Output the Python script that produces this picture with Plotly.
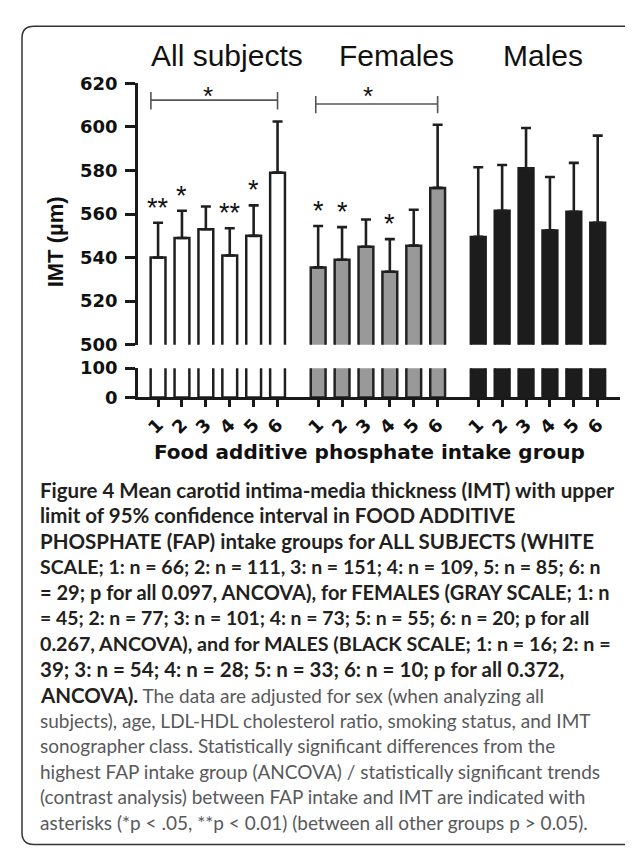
import plotly.graph_objects as go

W, H = 633, 848

GROUPS = ["All subjects", "Females", "Males"]
TICK_LABELS = ["1", "2", "3", "4", "5", "6"]

all_mean = [540, 549, 553, 541, 550, 579]
all_upper = [556, 561.5, 563.5, 553.5, 564, 602.5]
fem_mean = [535.5, 539, 545, 533.5, 545.5, 572]
fem_upper = [554.5, 554, 557.5, 548.5, 562, 601]
male_mean = [549.5, 561.5, 581, 552.5, 561, 556]
male_upper = [581.5, 582.5, 599.5, 577, 583.5, 596]

# significance stars above individual bars (group index, bar index, label)
bar_stars = [(0, 0, "**"), (0, 1, "*"), (0, 3, "**"), (0, 4, "*"),
             (1, 0, "*"), (1, 1, "*"), (1, 3, "*")]

means = [all_mean, fem_mean, male_mean]
uppers = [all_upper, fem_upper, male_upper]
fills = ["#ffffff", "#999999", "#1c1c1c"]
lines = ["#1f1f1f", "#222222", "#1c1c1c"]

GROUP_STEP = 6.7
BAR_W = 0.62

def px_x(p):
    return p / W

def px_y(p):
    return 1 - p / H

fig = go.Figure()
all_x = []
for g in range(3):
    xs = [i + g * GROUP_STEP for i in range(len(means[g]))]
    all_x += xs
    err = [u - m for u, m in zip(uppers[g], means[g])]
    for ax_x, ax_y, with_err in (("x2", "y2", True), ("x", "y", False)):
        fig.add_trace(go.Bar(
            x=xs, y=means[g], width=BAR_W, xaxis=ax_x, yaxis=ax_y,
            marker=dict(color=fills[g], line=dict(color=lines[g], width=2.5)),
            error_y=dict(type="data", symmetric=False, array=err,
                         arrayminus=[0] * len(err), color="#1f1f1f",
                         thickness=2.6, width=5) if with_err else None,
            hoverinfo="skip", showlegend=False,
        ))

x_dom = [px_x(130), px_x(611.7)]
x_rng = [-0.84, 19.32]
axis_col = "#1a1a1a"
TICK_FONT = dict(family="DejaVu Sans", size=18, weight="bold", color="#111111")

fig.update_layout(
    width=W, height=H,
    margin=dict(l=0, r=0, t=0, b=0),
    paper_bgcolor="white", plot_bgcolor="rgba(0,0,0,0)",
    barmode="overlay",
    font=dict(family="Liberation Sans, Arial, sans-serif", color="#111111"),
    xaxis=dict(domain=x_dom, range=x_rng, anchor="y", showline=True,
               linecolor=axis_col, linewidth=2.5, ticks="outside",
               ticklen=7, tickwidth=2.5, tickcolor=axis_col,
               tickvals=all_x, ticktext=TICK_LABELS * 3, tickangle=-45,
               tickfont=TICK_FONT,
               showgrid=False, zeroline=False, fixedrange=True),
    xaxis2=dict(domain=x_dom, range=x_rng, anchor="y2", visible=False,
                matches="x"),
    yaxis=dict(domain=[px_y(388), px_y(358)], range=[0, 100], anchor="x",
               showline=True, linecolor=axis_col, linewidth=2.5,
               ticks="outside", ticklen=10, tickwidth=2.5,
               tickcolor=axis_col, tickvals=[0, 100],
               tickfont=TICK_FONT, ticklabelstandoff=4,
               showgrid=False, zeroline=False),
    yaxis2=dict(domain=[px_y(334), px_y(66)], range=[500, 620], anchor="x2",
                showline=True, linecolor=axis_col, linewidth=2.5,
                ticks="outside", ticklen=10, tickwidth=2.5,
                tickcolor=axis_col, tickvals=list(range(500, 621, 20)),
                tickfont=TICK_FONT, ticklabelstandoff=4,
                showgrid=False, zeroline=False),
)

# group titles
for name, cx in zip(GROUPS, [219, 388, 535]):
    fig.add_annotation(text=name, x=px_x(cx), y=px_y(37), xref="paper",
                       yref="paper", showarrow=False, xanchor="center",
                       yanchor="middle",
                       font=dict(size=30, color="#111111"))

# stars over bars
for g, i, lab in bar_stars:
    fig.add_annotation(text=lab, x=i + g * GROUP_STEP, y=uppers[g][i],
                       xref="x2", yref="y2", showarrow=False,
                       xanchor="center", yanchor="bottom", yshift=-2,
                       font=dict(size=27, color="#111111"))

# brackets
br_col = "#555555"
for x0, x1, yl, yt0, yt1, sx in ((-0.3, 5.0, 612.3, 616.0, 608.0, 2.1),
                                 (6.6, 11.7, 610.5, 614.2, 606.3, 8.79)):
    fig.add_shape(type="line", x0=x0, x1=x1, y0=yl, y1=yl, xref="x2",
                  yref="y2", line=dict(color=br_col, width=1.6))
    for xe in (x0, x1):
        fig.add_shape(type="line", x0=xe, x1=xe, y0=yt0, y1=yt1, xref="x2",
                      yref="y2", line=dict(color=br_col, width=1.6))
    fig.add_annotation(text="*", x=sx, y=617.5, xref="x2", yref="y2",
                       showarrow=False, xanchor="center", yanchor="middle",
                       yshift=-7, font=dict(size=26, color="#111111"))

# axis titles
fig.add_annotation(text="<b>IMT (µm)</b>", x=px_x(47), y=px_y(228),
                   xref="paper", yref="paper", showarrow=False, textangle=-90,
                   xanchor="center", yanchor="middle",
                   font=dict(size=22, color="#111111"))
fig.add_annotation(text="<b>Food additive phosphate intake group</b>",
                   x=px_x(361), y=px_y(444), xref="paper", yref="paper",
                   showarrow=False, xanchor="center", yanchor="middle",
                   font=dict(family="DejaVu Sans", size=20, color="#111111"))

# caption: (bold part, regular part, bold font size)
BOLD = "#231f20"
REG = "#58595b"
caption = [
    ("Figure 4 Mean carotid intima-media thickness (IMT) with upper", "", 20.5),
    ("limit of 95% confidence interval in FOOD ADDITIVE", "", 20.5),
    ("PHOSPHATE (FAP) intake groups for ALL SUBJECTS (WHITE", "", 20.5),
    ("SCALE; 1: n = 66; 2: n = 111, 3: n = 151; 4: n = 109, 5: n = 85; 6: n", "", 19.5),
    ("= 29; p for all 0.097, ANCOVA), for FEMALES (GRAY SCALE; 1: n", "", 20.0),
    ("= 45; 2: n = 77; 3: n = 101; 4: n = 73; 5: n = 55; 6: n = 20; p for all", "", 19.4),
    ("0.267, ANCOVA), and for MALES (BLACK SCALE; 1: n = 16; 2: n =", "", 19.7),
    ("39; 3: n = 54; 4: n = 28; 5: n = 33; 6: n = 10; p for all 0.372,", "", 20.5),
    ("ANCOVA).", " The data are adjusted for sex (when analyzing all", 20.5),
    ("", "subjects), age, LDL-HDL cholesterol ratio, smoking status, and IMT", 20.5),
    ("", "sonographer class. Statistically significant differences from the", 20.5),
    ("", "highest FAP intake group (ANCOVA) / statistically significant trends", 20.5),
    ("", "(contrast analysis) between FAP intake and IMT are indicated with", 20.5),
    ("", "asterisks (*p < .05, **p < 0.01) (between all other groups p > 0.05).", 20.5),
]

def esc(s):
    return s.replace("<", "&lt;").replace(">", "&gt;")

for k, (b, r, bsize) in enumerate(caption):
    txt = ""
    if b:
        txt += (f"<b><span style='color:{BOLD};font-size:{bsize}px'>"
                f"{esc(b)}</span></b>")
    if r:
        txt += f"<span style='color:{REG}'>{esc(r)}</span>"
    fig.add_annotation(text=txt, x=px_x(30), y=px_y(482.7 + k * 26.25),
                       xref="paper", yref="paper", showarrow=False,
                       xanchor="left", yanchor="middle",
                       font=dict(family="Lato, Noto Sans, sans-serif",
                                 size=19, color=REG))

# rounded frame
L, T, R, B = 14, 7.5, 631.5, 846.5
r = 12
rx, ry = r / W, r / H
l_, t_, r_, b_ = px_x(L), px_y(T), px_x(R), px_y(B)
path = (f"M {l_ + rx},{t_} L {r_ - rx},{t_} Q {r_},{t_} {r_},{t_ - ry} "
        f"L {r_},{b_ + ry} Q {r_},{b_} {r_ - rx},{b_} "
        f"L {l_ + rx},{b_} Q {l_},{b_} {l_},{b_ + ry} "
        f"L {l_},{t_ - ry} Q {l_},{t_} {l_ + rx},{t_} Z")
fig.add_shape(type="path", path=path, xref="paper", yref="paper",
              line=dict(color="#333333", width=1.5), layer="above")

fig.write_html("out.html")
